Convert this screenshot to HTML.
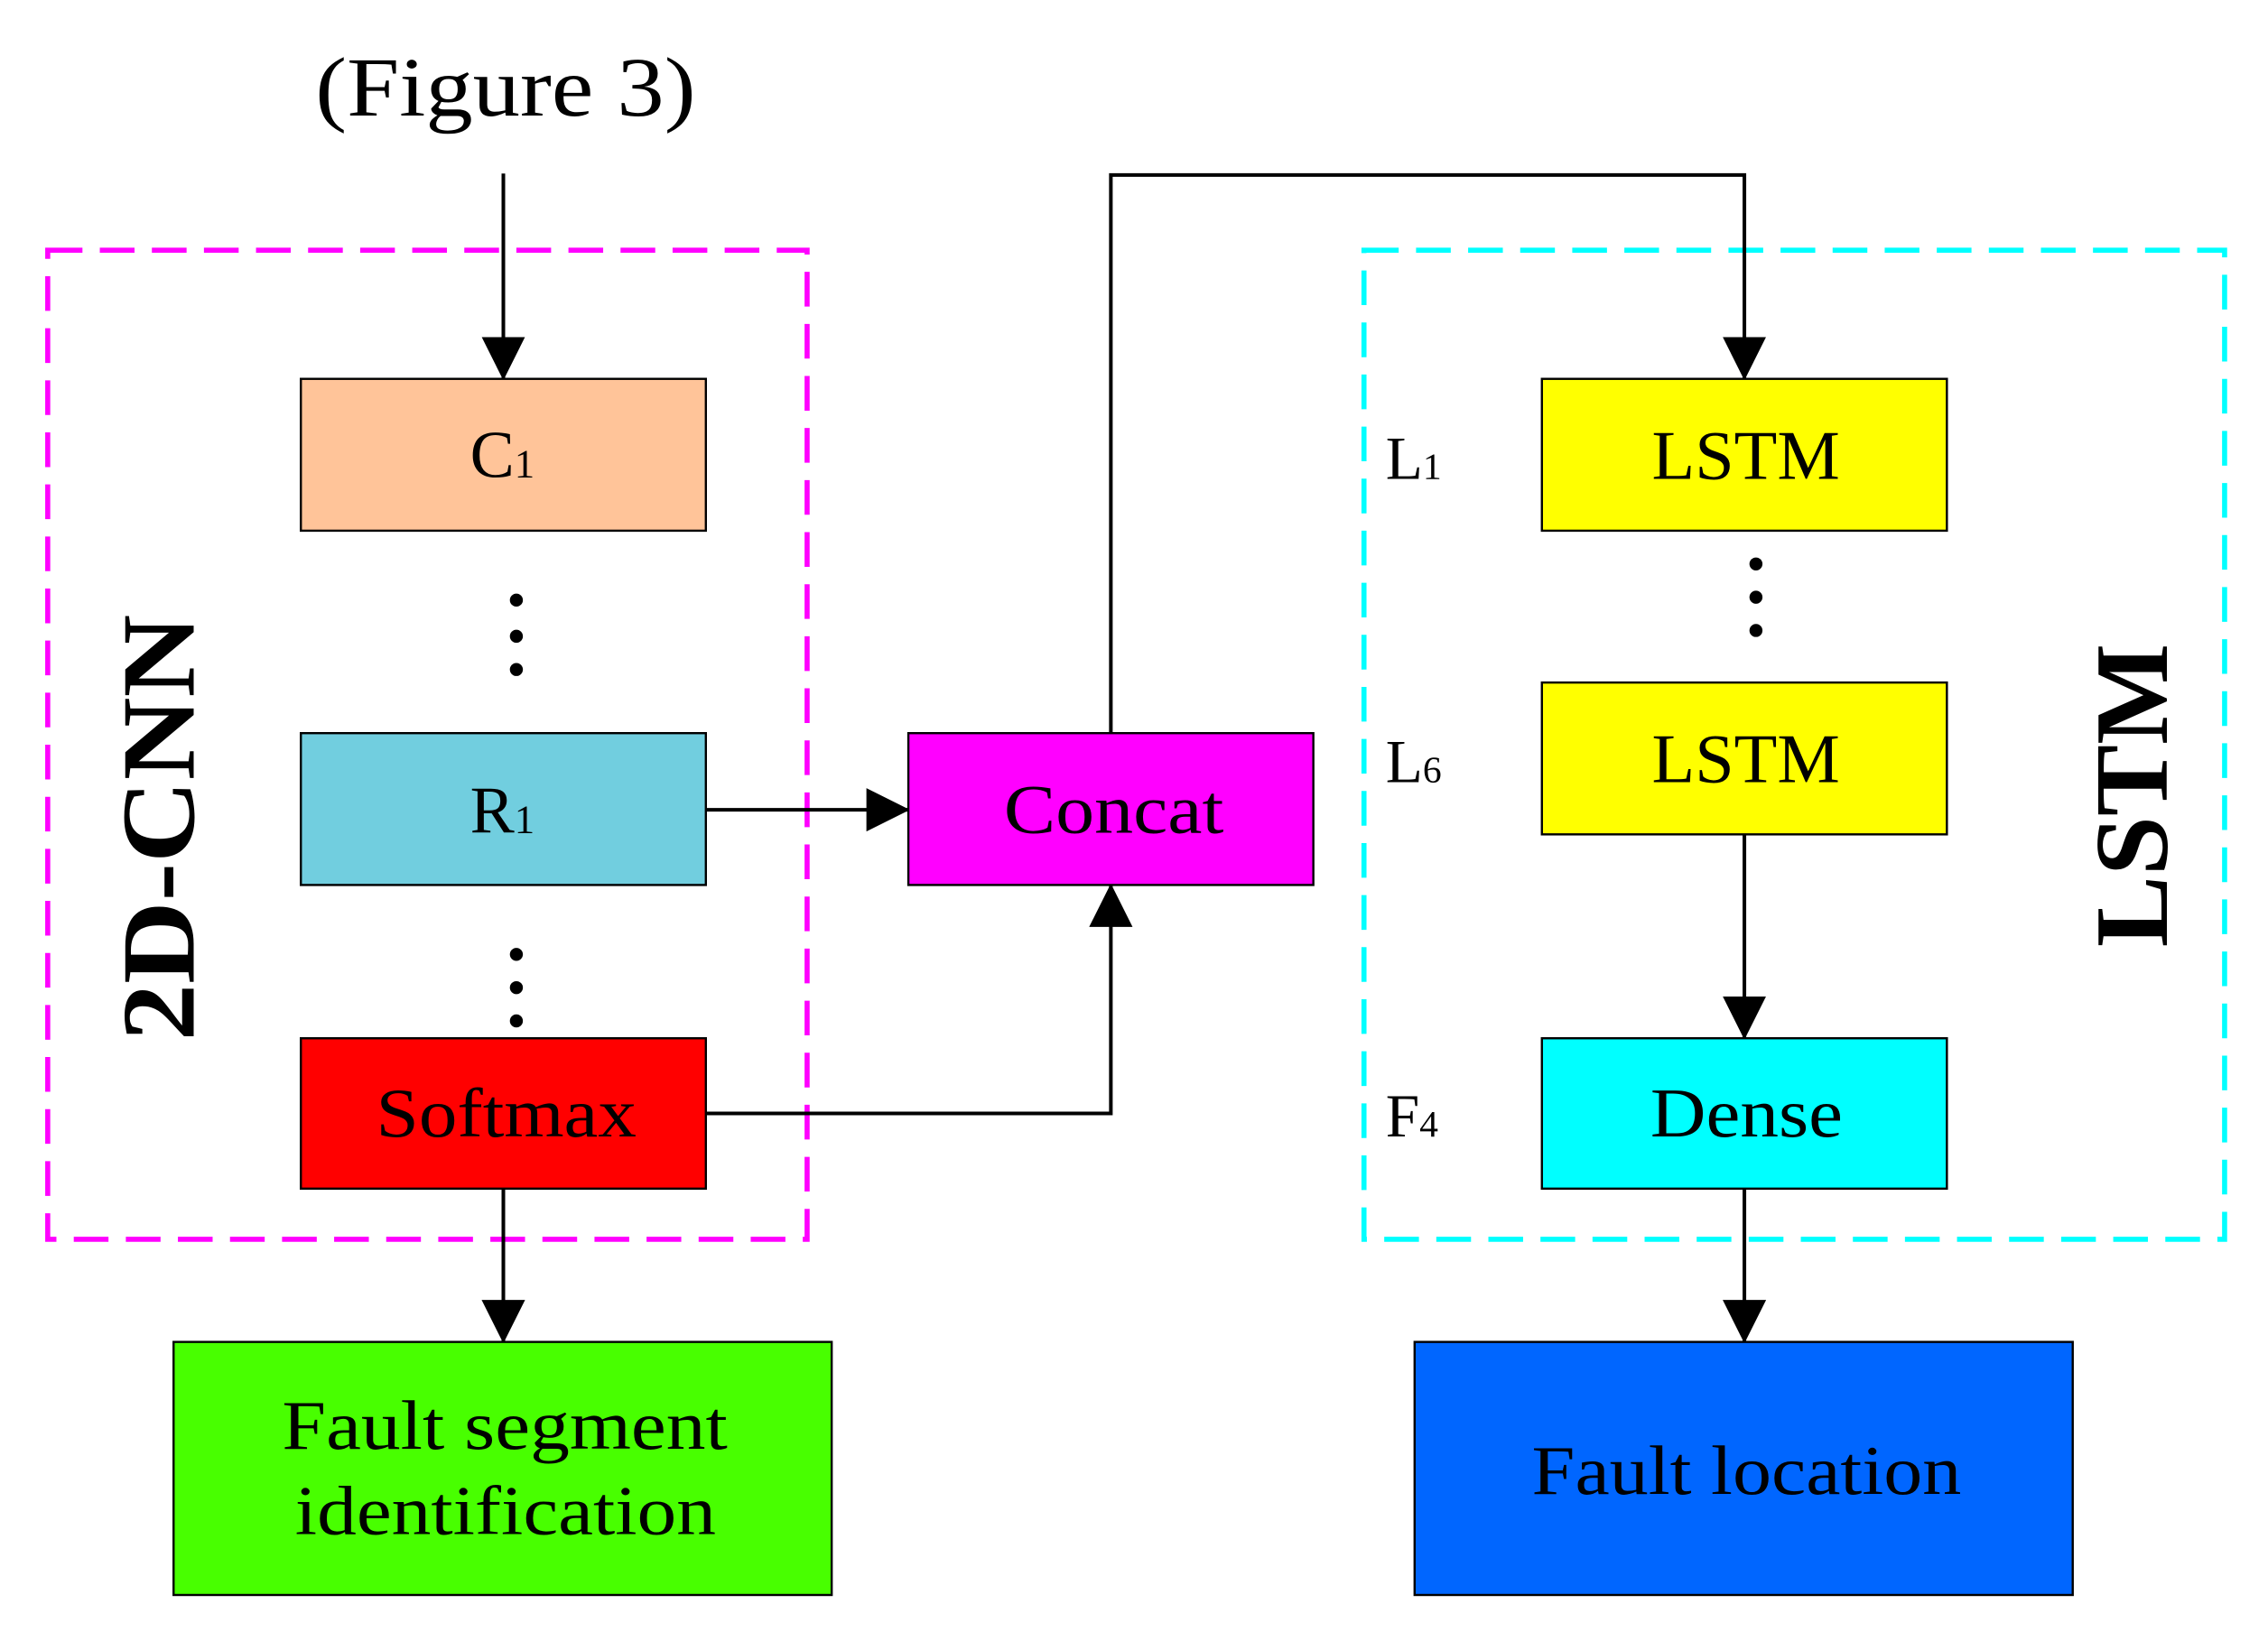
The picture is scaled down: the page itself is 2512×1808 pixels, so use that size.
<!DOCTYPE html>
<html><head><meta charset="utf-8"><style>html,body{margin:0;padding:0;background:#fff}svg{display:block}</style></head><body>
<svg width="2512" height="1808" viewBox="0 0 1568 1128.6" preserveAspectRatio="none" xmlns="http://www.w3.org/2000/svg" font-family="'Liberation Serif', serif">
<defs>
<marker id="b" markerWidth="30" markerHeight="30" refX="29" refY="15" orient="auto" markerUnits="userSpaceOnUse"><path d="M0,0 L30,15 L0,30 z" fill="#000"/></marker></defs>
<text x="218" y="80" font-size="58" textLength="263" lengthAdjust="spacingAndGlyphs">(Figure 3)</text>
<rect x="33" y="173" width="525" height="684" fill="none" stroke="#ff00ff" stroke-width="3.5" stroke-dasharray="24,12"/>
<rect x="943" y="173" width="595" height="684" fill="none" stroke="#00ffff" stroke-width="3.5" stroke-dasharray="24,12"/>
<g stroke="#000" stroke-width="2.5" fill="none">
<path d="M348,120 V262" marker-end="url(#b)"/>
<path d="M488,560 H628" marker-end="url(#b)"/>
<path d="M488,770 H768 V612" marker-end="url(#b)"/>
<path d="M768,507 V121 H1206 V262" marker-end="url(#b)"/>
<path d="M1206,577 V718" marker-end="url(#b)"/>
<path d="M348,822 V928" marker-end="url(#b)"/>
<path d="M1206,822 V928" marker-end="url(#b)"/>
</g>
<g stroke="#000" stroke-width="1.5">
<rect x="208" y="262" width="280" height="105" fill="#FFC499"/>
<rect x="208" y="507" width="280" height="105" fill="#71CEDF"/>
<rect x="208" y="718" width="280" height="104" fill="#FF0000"/>
<rect x="120" y="928" width="455" height="175" fill="#48FF00"/>
<rect x="628" y="507" width="280" height="105" fill="#FF00FF"/>
<rect x="1066" y="262" width="280" height="105" fill="#FFFF00"/>
<rect x="1066" y="472" width="280" height="105" fill="#FFFF00"/>
<rect x="1066" y="718" width="280" height="104" fill="#00FFFF"/>
<rect x="978" y="928" width="455" height="175" fill="#0066FF"/>
</g>
<g fill="#000">
<circle cx="357" cy="415" r="4.5"/><circle cx="357" cy="440" r="4.5"/><circle cx="357" cy="463" r="4.5"/>
<circle cx="357" cy="660" r="4.5"/><circle cx="357" cy="683" r="4.5"/><circle cx="357" cy="706" r="4.5"/>
<circle cx="1214" cy="390" r="4.5"/><circle cx="1214" cy="413" r="4.5"/><circle cx="1214" cy="436" r="4.5"/>
</g>
<g font-size="48" lengthAdjust="spacingAndGlyphs">
<text x="325" y="330" font-size="46">C<tspan font-size="28">1</tspan></text>
<text x="325" y="576" font-size="46">R<tspan font-size="28">1</tspan></text>
<text x="260" y="786" textLength="180" lengthAdjust="spacingAndGlyphs">Softmax</text>
<text x="195" y="1002" textLength="308" lengthAdjust="spacingAndGlyphs">Fault segment</text>
<text x="204" y="1061" textLength="291" lengthAdjust="spacingAndGlyphs">identification</text>
<text x="694" y="576" textLength="152" lengthAdjust="spacingAndGlyphs">Concat</text>
<text x="1142" y="331" textLength="130" lengthAdjust="spacingAndGlyphs">LSTM</text>
<text x="1142" y="541" textLength="130" lengthAdjust="spacingAndGlyphs">LSTM</text>
<text x="1141" y="786" textLength="133" lengthAdjust="spacingAndGlyphs">Dense</text>
<text x="1059" y="1033" textLength="297" lengthAdjust="spacingAndGlyphs">Fault location</text>
</g>
<g font-size="42">
<text x="958" y="331">L<tspan font-size="26">1</tspan></text>
<text x="958" y="541">L<tspan font-size="26">6</tspan></text>
<text x="958" y="786">F<tspan font-size="26">4</tspan></text>
</g>
<text transform="translate(134,720) rotate(-90)" font-size="72" font-weight="bold" textLength="295" lengthAdjust="spacingAndGlyphs">2D-CNN</text>
<text transform="translate(1498,655) rotate(-90)" font-size="72" font-weight="bold" textLength="210" lengthAdjust="spacingAndGlyphs">LSTM</text>
</svg>
</body></html>
